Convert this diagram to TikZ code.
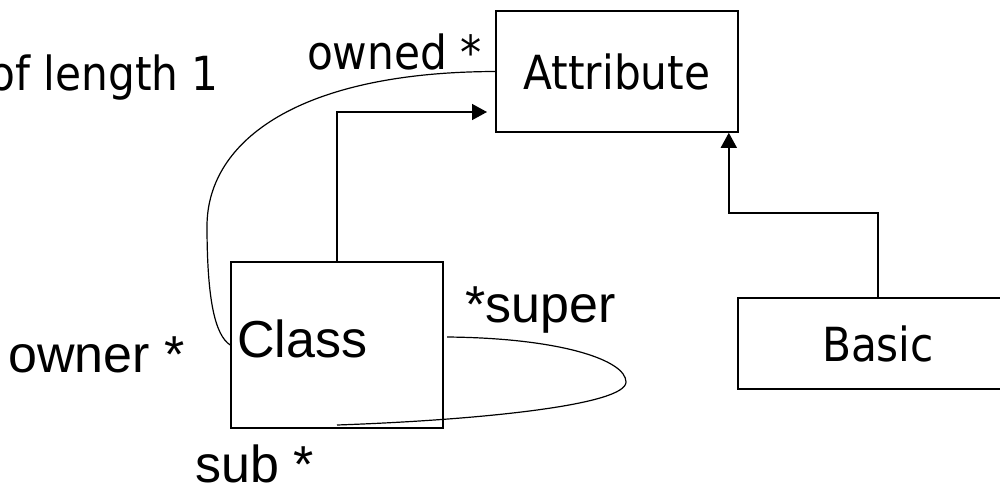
\documentclass[tikz,border=0pt]{standalone}
\usepackage{fontspec}
\setmainfont{Liberation Sans}
\newfontfamily\tahoma{DejaVu Sans Condensed}
\usetikzlibrary{arrows.meta,positioning}

\begin{document}
\begin{tikzpicture}[x=1pt, y=-1pt,
  box/.style={draw, line width=1.6pt, inner sep=0pt},
  ta/.style={font=\tahoma\fontsize{47}{56}\selectfont, inner sep=0pt},
  ar/.style={font=\fontsize{52}{62}\selectfont, inner sep=0pt},
  link/.style={line width=1.2pt},
  gen/.style={-{Triangle[length=15pt,width=16pt]}, line width=1.5pt}]
  \useasboundingbox (0,0) rectangle (1000,491);
  \node[box, ta, minimum width=242pt, minimum height=121pt] (attr) at (617,71.5) {Attribute};
  \node[box, minimum width=212pt, minimum height=166pt] (cls) at (337,345) {};
  \node[box, ta, minimum width=280pt, minimum height=91pt] (basic) at (878,343.5) {Basic};
  \node[ar, anchor=base west] (clsname) at (237,357) {Class};
  \node[ta, anchor=base east] (len) at (219,90) {of length 1};
  \node[ta, anchor=base east] (owned) at (482,69) {owned *};
  \node[ar, anchor=base west] (super) at (465,322) {*super};
  \node[ar, anchor=base east] (owner) at (185,372) {owner *};
  \node[ar, anchor=base west] (sub) at (195,482) {sub *};
  \coordinate (tip) at (487,112);
  \coordinate (supA) at (447,337);
  \coordinate (subB) at (337,425);
  \draw[gen] (cls.north) |- (tip);
  \draw[gen] (basic.north) -- (basic.north |- 0,213) -| ([xshift=-10pt]attr.south east);
  \draw[link] (attr.west) .. controls (300,72) and (208,140) .. (207,225)
    .. controls (207,300) and (215,335) .. (cls.west);
  \draw[link] (supA) .. controls (560,338) and (626,360) .. (626,382)
    .. controls (626,405) and (480,420) .. (subB);
\end{tikzpicture}
\end{document}
